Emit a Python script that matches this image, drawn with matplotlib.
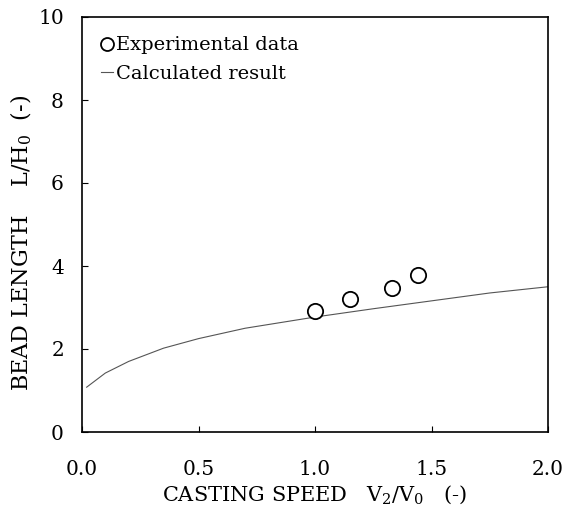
import numpy as np
import matplotlib
matplotlib.use("Agg")
import matplotlib.pyplot as plt

plt.rcParams['font.family'] = ['DejaVu Serif']
plt.rcParams['mathtext.fontset'] = 'dejavuserif'

# experimental points
exp_speed = [1.0, 1.15, 1.33, 1.44]
exp_length = [2.92, 3.2, 3.47, 3.78]

# calculated curve
calc_speed = [0.02, 0.1, 0.2, 0.35, 0.5, 0.7, 1.0, 1.25, 1.5, 1.75, 2.0]
calc_length = [1.08, 1.42, 1.7, 2.02, 2.25, 2.5, 2.77, 2.97, 3.16, 3.35, 3.5]

fig = plt.figure(figsize=(5.64, 5.07), dpi=100)
ax = fig.add_axes([82 / 564, 75 / 507, 466 / 564, 415 / 507])

ax.plot(calc_speed, calc_length, color='#555555', lw=0.8, label='Calculated result')
ax.plot(exp_speed, exp_length, linestyle='none', marker='o', ms=11,
        mfc='white', mec='black', mew=1.3, label='Experimental data')

ax.set_xlim(0, 2)
ax.set_ylim(0, 10)
ax.set_xticks([0.0, 0.5, 1.0, 1.5, 2.0])
ax.set_xticklabels(['0.0', '0.5', '1.0', '1.5', '2.0'])
ax.set_yticks([0, 2, 4, 6, 8, 10])
ax.tick_params(direction='in', length=4, width=0.8, labelsize=14.5)
ax.tick_params(axis='x', pad=20)
ax.tick_params(axis='y', pad=13)
for s in ax.spines.values():
    s.set_linewidth(1.2)

ax.set_xlabel('CASTING SPEED   V$_2$/V$_0$   (-)', fontsize=15, labelpad=3)
ax.set_ylabel('BEAD LENGTH    L/H$_0$  (-)', fontsize=16)
ax.yaxis.set_label_coords(-0.102, 0.455)

h, l = ax.get_legend_handles_labels()
ax.legend(h[::-1], l[::-1], loc='upper left', frameon=False, fontsize=14,
          handlelength=0.6, handletextpad=0.15, borderaxespad=0.6,
          labelspacing=0.55, markerscale=0.85)

fig.savefig('out.png', dpi=100)
